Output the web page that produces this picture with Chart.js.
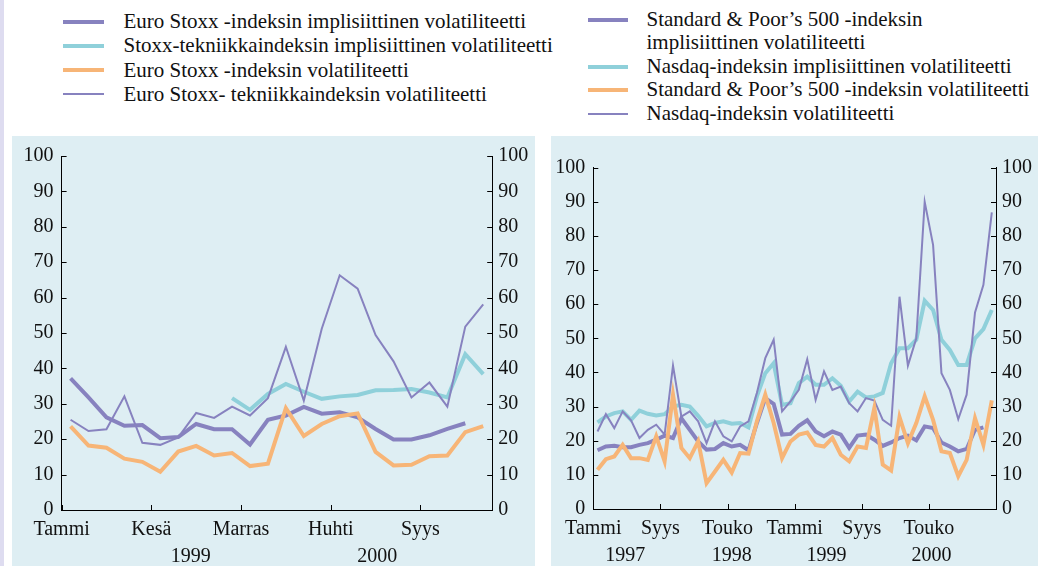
<!DOCTYPE html>
<html><head><meta charset="utf-8">
<script src="https://cdn.jsdelivr.net/npm/chart.js@4"></script>
<style>
html,body{margin:0;padding:0;background:#fff;width:1038px;height:566px;overflow:hidden;font-family:'Liberation Serif','Times New Roman',serif;}
#strip{position:absolute;left:0;top:0;width:4px;height:566px;background:#dedcf0;}
.panel{position:absolute;background:#deeef3;}
#pl{left:12px;top:136px;width:523px;height:430px;}
#pr{left:551px;top:136px;width:487px;height:430px;}
.lg{position:absolute;font-size:21px;line-height:24px;color:#111;white-space:nowrap;}
.sw{position:absolute;}
</style></head><body>
<div id="strip"></div>
<div id="legend"></div>
<div class="panel" id="pl"><canvas id="cl"></canvas></div>
<div class="panel" id="pr"><canvas id="cr"></canvas></div>
<script>
// ---------- Left chart (1999–2000, monthly) ----------
const leftTickPos = [0, 5, 10, 15, 20];
const leftTickLabels = ['Tammi', 'Kesä', 'Marras', 'Huhti', 'Syys'];
const leftYears = ['1999', '2000'];
const leftYearPos = [7.2, 17.6];
const euroImplied = [37.2, 31.8, 26.2, 23.8, 24.0, 20.3, 20.6, 24.3, 22.8, 22.8, 18.5, 25.5, 26.7, 29.1, 27.2, 27.6, 26.2, 22.9, 19.9, 19.9, 21.1, 22.9, 24.5];
const techImplied = [null, null, null, null, null, null, null, null, null, 31.6, 28.3, 32.8, 35.6, 33.4, 31.4, 32.1, 32.5, 33.8, 33.9, 34.2, 33.2, 31.8, 44.0, 38.4];
const euroVol = [23.6, 18.2, 17.6, 14.5, 13.6, 10.8, 16.5, 18.1, 15.4, 16.1, 12.4, 13.1, 28.8, 20.9, 24.3, 26.5, 27.3, 16.4, 12.6, 12.8, 15.2, 15.4, 22.0, 23.7];
const techVol = [25.5, 22.3, 22.8, 32.1, 19.0, 18.4, 20.5, 27.4, 26.0, 29.2, 26.7, 31.6, 46.1, 30.9, 51.2, 66.3, 62.5, 49.4, 42.0, 31.8, 36.0, 29.2, 51.8, 58.1];
const leftNames = ['Euro Stoxx -indeksin implisiittinen volatiliteetti', 'Stoxx-tekniikkaindeksin implisiittinen volatiliteetti', 'Euro Stoxx -indeksin volatiliteetti', 'Euro Stoxx- tekniikkaindeksin volatiliteetti'];

// ---------- Right chart (1997–2000, monthly) ----------
const rightTickPos = [0, 8, 16, 24, 32, 40];
const rightTickLabels = ['Tammi', 'Syys', 'Touko', 'Tammi', 'Syys', 'Touko'];
const rightYears = ['1997', '1998', '1999', '2000'];
const rightYearPos = [3.8, 16.5, 27.8, 40.3];
const spImplied = [17.2, 18.3, 18.5, 18.1, 18.1, 18.8, 19.3, 20.3, 21.5, 20.8, 26.6, 23.2, 19.8, 17.4, 17.6, 19.3, 18.3, 18.8, 17.2, 25.2, 32.5, 30.8, 21.8, 22.0, 24.4, 26.0, 22.7, 21.3, 22.7, 21.8, 17.9, 21.5, 21.8, 20.3, 18.5, 19.5, 20.8, 21.5, 20.1, 24.2, 23.7, 19.5, 18.3, 16.9, 17.6, 23.2, 23.9];
const nasdaqImplied = [25.4, 27.1, 28.1, 28.6, 26.1, 28.8, 27.9, 27.4, 27.8, 30.0, 30.5, 30.0, 27.3, 24.2, 25.2, 25.7, 25.0, 25.2, 23.9, 33.0, 39.8, 42.7, 30.5, 31.0, 36.9, 38.8, 36.4, 36.4, 38.3, 36.1, 31.5, 34.4, 32.7, 33.0, 34.0, 42.7, 47.1, 47.1, 49.6, 61.0, 58.3, 49.6, 46.6, 42.2, 42.2, 50.0, 52.7, 58.3];
const spVol = [11.5, 14.6, 15.4, 18.8, 14.9, 14.9, 14.4, 21.3, 14.0, 33.5, 17.9, 14.9, 19.8, 7.6, 11.0, 14.4, 10.7, 16.4, 16.2, 25.7, 33.5, 25.2, 14.9, 19.8, 21.8, 22.4, 18.8, 18.3, 20.8, 15.9, 14.0, 18.3, 17.9, 29.6, 13.0, 11.3, 26.9, 19.3, 25.2, 33.0, 26.1, 16.9, 16.4, 9.6, 14.4, 26.6, 18.8, 31.8];
const nasdaqVol = [22.7, 27.8, 23.7, 28.6, 26.0, 20.8, 23.2, 24.7, 21.8, 42.0, 27.1, 28.6, 25.7, 19.3, 25.7, 21.3, 19.8, 24.2, 25.7, 34.0, 44.2, 49.6, 28.6, 31.5, 34.9, 43.9, 32.0, 40.3, 34.9, 35.9, 31.0, 28.6, 32.5, 31.8, 26.1, 24.4, 62.2, 42.0, 50.0, 90.0, 77.4, 39.8, 34.9, 26.3, 33.5, 57.6, 65.7, 86.9];
const rightNames = [['Standard & Poor’s 500 -indeksin', 'implisiittinen volatiliteetti'], 'Nasdaq-indeksin implisiittinen volatiliteetti', 'Standard & Poor’s 500 -indeksin volatiliteetti', 'Nasdaq-indeksin volatiliteetti'];

const yTicks = [0, 10, 20, 30, 40, 50, 60, 70, 80, 90, 100];

const FONT = "'Liberation Serif', 'Times New Roman', serif";
const C = { purple: '#8782bf', cyan: '#8fd0da', orange: '#f7b577', ink: '#111111' };
const styles = [
  { color: C.purple, width: 4 },
  { color: C.cyan, width: 4 },
  { color: C.orange, width: 4 },
  { color: C.purple, width: 2 }
];

// ---------- HTML legend ----------
(function () {
  const lg = document.getElementById('legend');
  function add(x0, x1, textX, baselines, names) {
    let row = 0;
    names.forEach((nm, i) => {
      const lines = Array.isArray(nm) ? nm : [nm];
      const st = styles[i];
      const sw = document.createElement('div');
      sw.className = 'sw';
      const by = baselines[row];
      sw.style.cssText = `left:${x0}px;width:${x1 - x0}px;top:${by - 6.5 - st.width / 2}px;height:${st.width}px;background:${st.color};`;
      lg.appendChild(sw);
      lines.forEach(t => {
        const d = document.createElement('div');
        d.className = 'lg';
        d.textContent = t;
        d.style.left = textX + 'px';
        d.style.top = (baselines[row] - 19.1) + 'px';
        lg.appendChild(d);
        row++;
      });
    });
  }
  add(63, 104, 123.5, [28, 52.3, 76.6, 100.9], leftNames);
  add(588, 628, 646.5, [26, 49.5, 73, 96.5, 120], rightNames);
})();

// ---------- Plugin: inward tick marks & year labels ----------
const axisDecor = {
  id: 'axisDecor',
  afterDraw(chart, args, opts) {
    const ctx = chart.ctx, ca = chart.chartArea;
    const sx = chart.scales.x, sy = chart.scales.y, sy2 = chart.scales.y2;
    ctx.save();
    ctx.strokeStyle = '#000';
    ctx.lineWidth = 1;
    ctx.beginPath();
    sx.ticks.forEach(t => {
      const px = Math.round(sx.getPixelForValue(t.value)) + 0.5;
      ctx.moveTo(px, ca.bottom); ctx.lineTo(px, ca.bottom - 5);
    });
    sy.ticks.forEach(t => {
      const py = Math.round(sy.getPixelForValue(t.value)) + 0.5;
      ctx.moveTo(ca.left, py); ctx.lineTo(ca.left + 5, py);
    });
    sy2.ticks.forEach(t => {
      const py = Math.round(sy2.getPixelForValue(t.value)) + 0.5;
      ctx.moveTo(ca.right, py); ctx.lineTo(ca.right - 5, py);
    });
    ctx.stroke();
    ctx.fillStyle = C.ink;
    ctx.font = '20px ' + FONT;
    ctx.textAlign = 'center';
    ctx.textBaseline = 'middle';
    opts.years.forEach((y, i) => {
      ctx.fillText(y, sx.getPixelForValue(opts.yearPos[i]), ca.bottom + 47);
    });
    ctx.restore();
  }
};

function series(arr) {
  return arr.map((v, i) => ({ x: i + 0.5, y: v }));
}

function makeChart(id, cfg) {
  const ds = cfg.data.map((arr, i) => ({
    label: cfg.names[i],
    data: series(arr),
    borderColor: styles[i].color,
    backgroundColor: styles[i].color,
    borderWidth: styles[i].width,
    pointRadius: 0,
    tension: 0,
    fill: false,
    order: cfg.order[i]
  }));
  const tickFont = { family: FONT, size: 20 };
  return new Chart(document.getElementById(id), {
    type: 'line',
    data: { datasets: ds },
    options: {
      responsive: true,
      maintainAspectRatio: false,
      animation: false,
      devicePixelRatio: 1,
      layout: { padding: { top: cfg.top, left: 0, right: 0, bottom: 0 } },
      plugins: {
        legend: { display: false },
        tooltip: { enabled: false },
        axisDecor: { years: cfg.years, yearPos: cfg.yearPos }
      },
      scales: {
        x: {
          type: 'linear', min: 0, max: cfg.months,
          grid: { display: false, drawTicks: false },
          border: { display: true, color: '#000', width: 1 },
          afterBuildTicks: s => { s.ticks = cfg.tickPos.map(v => ({ value: v })); },
          afterFit: s => { s.height = cfg.bottom; },
          ticks: {
            font: tickFont, color: C.ink, padding: 8, maxRotation: 0, autoSkip: false,
            callback: v => { const k = cfg.tickPos.indexOf(v); return k >= 0 ? cfg.tickLabels[k] : ''; }
          }
        },
        y: {
          type: 'linear', position: 'left', min: 0, max: 100,
          grid: { display: false, drawTicks: false },
          border: { display: true, color: '#000', width: 1 },
          afterBuildTicks: s => { s.ticks = yTicks.map(v => ({ value: v })); },
          afterFit: s => { s.width = cfg.leftW; },
          ticks: { font: tickFont, color: C.ink, padding: 8 }
        },
        y2: {
          type: 'linear', position: 'right', min: 0, max: 100,
          grid: { display: false, drawTicks: false },
          border: { display: true, color: '#000', width: 1 },
          afterBuildTicks: s => { s.ticks = yTicks.map(v => ({ value: v })); },
          afterFit: s => { s.width = cfg.rightW; },
          ticks: { font: tickFont, color: C.ink, padding: 6 }
        }
      }
    },
    plugins: [axisDecor]
  });
}

makeChart('cl', {
  data: [euroImplied, techImplied, euroVol, techVol],
  names: leftNames,
  order: [3, 4, 1, 2],
  months: 24,
  tickPos: leftTickPos, tickLabels: leftTickLabels,
  years: leftYears, yearPos: leftYearPos,
  top: 18, bottom: 56, leftW: 49.6, rightW: 42.8
});

makeChart('cr', {
  data: [spImplied, nasdaqImplied, spVol, nasdaqVol],
  names: rightNames.map(n => Array.isArray(n) ? n.join(' ') : n),
  order: [3, 4, 1, 2],
  months: 48,
  tickPos: rightTickPos, tickLabels: rightTickLabels,
  years: rightYears, yearPos: rightYearPos,
  top: 31.7, bottom: 57, leftW: 42.3, rightW: 42
});
</script>
</body></html>
